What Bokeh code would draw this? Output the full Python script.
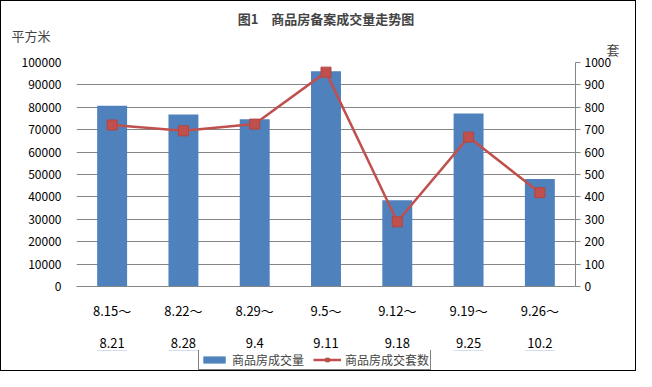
from bokeh.plotting import figure
from bokeh.layouts import column
from bokeh.models import (ColumnDataSource, LinearAxis, CategoricalAxis, Range1d, FactorRange,
                          Legend, LegendItem, FixedTicker, NumeralTickFormatter, Title)
from bokeh.embed import file_html
from bokeh.resources import INLINE

# ---- data ----
period_start = ["8.15～", "8.22～", "8.29～", "9.5～", "9.12～", "9.19～", "9.26～"]
period_end = ["8.21", "8.28", "9.4", "9.11", "9.18", "9.25", "10.2"]
area = [80700, 76800, 74700, 96100, 38500, 77200, 48000]      # 商品房成交量 (平方米)
units = [721, 695, 725, 957, 289, 667, 419]                    # 商品房成交套数 (套)
left_ticks = list(range(0, 100001, 10000))
right_ticks = list(range(0, 1001, 100))
title_text = "图1　商品房备案成交量走势图"
left_unit = "平方米"
right_unit = "套"
series_names = ["商品房成交量", "商品房成交套数"]

FONT = "Noto Sans CJK SC"
BLUE = "#4F81BD"
RED = "#C0504D"
RED_EDGE = "#B34541"
GRID = "#868686"
W = 634
ML, MR = 75, 60

src = ColumnDataSource(dict(cat=period_start, area=area, units=units))
xr = FactorRange(*period_start)

# ---- main chart ----
p = figure(x_range=xr, y_range=Range1d(0, 100000), width=W, height=349,
           output_backend="svg", toolbar_location=None, title=None,
           min_border_left=ML, min_border_right=MR, min_border_top=61, min_border_bottom=55)
p.extra_y_ranges = {"units": Range1d(0, 1000)}
p.extra_x_ranges = {"end": FactorRange(*period_end)}
p.outline_line_color = None

p.vbar(x="cat", top="area", width=0.42, source=src, fill_color=BLUE, line_color=None)
p.line(x="cat", y="units", source=src, y_range_name="units", line_color=RED, line_width=2.5)
p.scatter(x="cat", y="units", source=src, y_range_name="units", marker="square",
          size=10, fill_color=RED, line_color=RED_EDGE, line_width=1)

ya = p.yaxis[0]
ya.ticker = FixedTicker(ticks=left_ticks)
ya.formatter = NumeralTickFormatter(format="0")
ya.axis_line_color = None
ya.major_tick_line_color = None
ya.minor_tick_line_color = None
ya.major_label_standoff = 9
ya.major_label_text_font = FONT
ya.major_label_text_font_size = "12px"
ya.major_label_text_color = "black"

ra = LinearAxis(y_range_name="units", ticker=FixedTicker(ticks=right_ticks))
ra.axis_line_color = GRID
ra.major_tick_line_color = GRID
ra.major_tick_in = 0
ra.major_tick_out = 5
ra.minor_tick_line_color = None
ra.major_label_standoff = 4
ra.major_label_text_font = FONT
ra.major_label_text_font_size = "12px"
ra.major_label_text_color = "black"
p.add_layout(ra, "right")

xa = p.xaxis[0]
xa.axis_line_color = GRID
xa.major_tick_line_color = None
xa.minor_tick_line_color = None
xa.major_label_standoff = 8
xa.major_label_text_font = FONT
xa.major_label_text_font_size = "13px"
xa.major_label_text_color = "black"

xa2 = CategoricalAxis(x_range_name="end")
xa2.axis_line_color = None
xa2.major_tick_line_color = None
xa2.minor_tick_line_color = None
xa2.major_label_standoff = 9
xa2.major_label_text_font = FONT
xa2.major_label_text_font_size = "13px"
xa2.major_label_text_color = "black"
p.add_layout(xa2, "below")

p.xgrid.grid_line_color = None
p.ygrid.grid_line_color = GRID
p.ygrid.grid_line_width = 1

# titles: closest to the plot first
p.add_layout(Title(text=right_unit, align="right", offset=-44, standoff=7,
                   text_font=FONT, text_font_size="13px", text_font_style="normal"), "above")
p.add_layout(Title(text=left_unit, align="left", offset=-65, standoff=-20,
                   text_font=FONT, text_font_size="13px", text_font_style="normal"), "above")
p.add_layout(Title(text=title_text, align="center", offset=-9, standoff=11,
                   text_font=FONT, text_font_size="13px", text_font_style="bold"), "above")

# ---- legend strip (same series, plotted outside its visible range) ----
leg = figure(x_range=xr, y_range=Range1d(-2, -1), width=W, height=20,
             output_backend="svg", toolbar_location=None,
             min_border_left=ML, min_border_right=MR, min_border_top=0, min_border_bottom=0)
leg.axis.visible = False
leg.grid.visible = False
leg.outline_line_color = None
lb = leg.vbar(x="cat", top="area", width=0.42, source=src, fill_color=BLUE, line_color=None)
ll = leg.line(x="cat", y="units", source=src, line_color=RED, line_width=2.5)
ls = leg.scatter(x="cat", y="units", source=src, marker="square", size=9,
                 fill_color=RED, line_color=RED_EDGE)
legend = Legend(items=[LegendItem(label=series_names[0], renderers=[lb]),
                       LegendItem(label=series_names[1], renderers=[ll, ls])],
                orientation="horizontal", location=(122, 0))
legend.border_line_color = "black"
legend.border_line_width = 1
legend.label_text_font = FONT
legend.label_text_font_size = "12px"
legend.glyph_width = 28
legend.glyph_height = 9
legend.label_height = 14
legend.label_standoff = 4
legend.spacing = 9
legend.padding = 1
legend.margin = 0
leg.add_layout(legend, "center")

page = column(p, leg, spacing=0)
page.styles = {"border": "1px solid black"}

open("out.html", "w").write(file_html(page, INLINE))
